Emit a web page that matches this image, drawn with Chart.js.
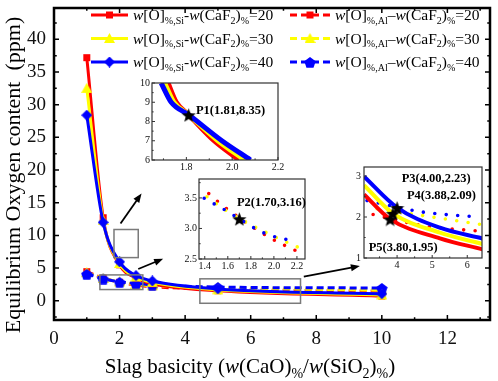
<!DOCTYPE html>
<html>
<head>
<meta charset="utf-8">
<script src="https://cdn.jsdelivr.net/npm/chart.js@4.4.1/dist/chart.umd.min.js"></script>
<style>
  html, body { margin: 0; padding: 0; background: #fff; }
  #wrap { position: relative; width: 498px; height: 381px; overflow: hidden; }
  #wrap canvas { position: absolute; }
</style>
</head>
<body>
<div id="wrap">
  <canvas id="main" width="498" height="381" style="left:0;top:0"></canvas>
  <canvas id="in1" width="160" height="100" style="left:132px;top:76px"></canvas>
  <canvas id="in2" width="156" height="103" style="left:180px;top:172px"></canvas>
  <canvas id="in3" width="142" height="113" style="left:348px;top:160px"></canvas>
</div>
<script>
// ---- main chart data ----
const basicity = [1, 1.5, 2, 2.5, 3, 5, 10];
const si20 = [37.2, 12.7, 5.5, 3.5, 2.6, 1.53, 0.72];
const si30 = [32.5, 12.3, 5.7, 3.65, 2.82, 1.67, 0.88];
const si40 = [28.4, 12.0, 5.95, 3.85, 3.02, 1.8, 1.05];
const al20 = [4.45, 3.46, 2.82, 2.4, 2.15, 1.76, 1.45];
const al30 = [4.3, 3.42, 2.87, 2.5, 2.3, 1.99, 1.6];
const al40 = [4.1, 3.38, 2.88, 2.65, 2.45, 2.09, 1.95];
const xTicks = [0, 2, 4, 6, 8, 10, 12];
const yTicks = [0, 5, 10, 15, 20, 25, 30, 35, 40];
const caf2 = [20, 30, 40];

// ---- inset 1 (Si curves around P1) ----
const p1X20 = [1.72, 1.756, 1.81, 1.921, 2.03];
const p1X30 = [1.705, 1.745, 1.81, 1.938, 2.055];
const p1X40 = [1.69, 1.734, 1.81, 1.955, 2.08];
const p1Y = [10, 9, 8.35, 7, 6];
const in1XTicks = [1.8, 2.0, 2.2];
const in1YTicks = [6, 7, 8, 9, 10];
const p1Star = { x: [1.81], y: [8.35] };

// ---- inset 2 (Al curves around P2) ----
const p2X20 = [1.412, 1.564, 1.969, 2.226];
const p2Y20 = [3.608, 3.361, 2.845, 2.603];
const p2X30 = [1.366, 1.606, 1.953, 2.219];
const p2Y30 = [3.59, 3.269, 2.915, 2.684];
const p2X40 = [1.395, 1.572, 1.928, 2.19];
const p2Y40 = [3.495, 3.306, 2.915, 2.785];
const in2XTicks = [1.4, 1.6, 1.8, 2.0, 2.2];
const in2YTicks = [2.5, 3.0, 3.5];
const p2Star = { x: [1.70], y: [3.16] };

// ---- inset 3 (Si and Al curves around P3-P5) ----
const p3SiX20 = [3.057, 3.80, 5.22, 6.44];
const p3SiY20 = [2.55, 1.95, 1.48, 1.21];
const p3SiX30 = [3.057, 3.88, 5.22, 6.44];
const p3SiY30 = [2.775, 2.09, 1.62, 1.34];
const p3SiX40 = [3.057, 4.00, 5.22, 6.44];
const p3SiY40 = [2.99, 2.23, 1.74, 1.475];
const p3AlX20 = [3.22, 4.79, 6.29];
const p3AlY20 = [2.08, 1.78, 1.66];
const p3AlX30 = [3.22, 5.22, 6.36];
const p3AlY30 = [2.23, 1.97, 1.82];
const p3AlX40 = [3.143, 4.74, 6.31];
const p3AlY40 = [2.40, 2.12, 2.0];
const in3XTicks = [4, 5, 6];
const in3YTicks = [1, 2, 3];
const p3Stars = { x: [4.00, 3.88, 3.80], y: [2.23, 2.09, 1.95] };

const SERIF = '"Liberation Serif", "Times New Roman", serif';
const RED = '#ff0000', YEL = '#ffff00', BLU = '#0000ff';

const pts = (xs, ys) => xs.map((x, i) => ({ x, y: Array.isArray(ys) ? ys[i] : ys }));

// marker images
function shape(kind, color, size) {
  const c = document.createElement('canvas');
  c.width = c.height = size;
  const g = c.getContext('2d');
  const r = size / 2;
  g.fillStyle = color;
  g.beginPath();
  if (kind === 'square') {
    g.rect(1, 1, size - 2, size - 2);
  } else if (kind === 'triangle') {
    g.moveTo(r, 0); g.lineTo(size, size - 1); g.lineTo(0, size - 1);
  } else if (kind === 'diamond') {
    g.moveTo(r, 0); g.lineTo(size, r); g.lineTo(r, size); g.lineTo(0, r);
  } else {
    const n = kind === 'star' ? 10 : 5;
    for (let i = 0; i < n; i++) {
      const a = -Math.PI / 2 + i * 2 * Math.PI / n;
      const rr = (kind === 'star' && i % 2) ? r * 0.42 : r;
      g.lineTo(r + rr * Math.cos(a), r + 1 + rr * Math.sin(a));
    }
  }
  g.closePath();
  g.fill();
  return c;
}
const mk = {
  sq: shape('square', RED, 9), tri: shape('triangle', YEL, 11), dia: shape('diamond', BLU, 11),
  sqA: shape('square', RED, 9), triA: shape('triangle', YEL, 11), pen: shape('penta', BLU, 12),
  star: shape('star', '#000', 15)
};

// rich text: parts = [[text, style]] style: i italic, s subscript, b bold
function fontFor(s, size) {
  const sz = s.includes('s') ? Math.round(size * 0.66) : size;
  return (s.includes('i') ? 'italic ' : '') + (s.includes('b') ? 'bold ' : '') + sz + 'px ' + SERIF;
}
function richWidth(ctx, parts, size) {
  let w = 0;
  for (const [t, s] of parts) { ctx.font = fontFor(s, size); w += ctx.measureText(t).width; }
  return w;
}
function drawRich(ctx, parts, x, y, size) {
  ctx.textAlign = 'left';
  ctx.textBaseline = 'alphabetic';
  for (const [t, s] of parts) {
    ctx.font = fontFor(s, size);
    ctx.fillText(t, x, y + (s.includes('s') ? size * 0.24 : 0));
    x += ctx.measureText(t).width;
  }
}
const legendText = (el, dash, n) => [['w', 'i'], ['[O]', ''], ['%,' + el, 's'], [dash, ''], ['w', 'i'],
  ['(CaF', ''], ['2', 's'], [')', ''], ['%', 's'], ['=' + n, '']];

// frame + inward ticks + labels, shared by all charts
const framePlugin = {
  id: 'frame',
  afterDraw(chart, args, o) {
    const { ctx, chartArea: a, scales: { x, y } } = chart;
    ctx.save();
    ctx.strokeStyle = o.color;
    ctx.lineWidth = o.tickWidth;
    const tick = (vals, len) => {
      vals.forEach(v => {
        const px = x.getPixelForValue(v);
        if (px < a.left - 0.5 || px > a.right + 0.5) return;
        ctx.beginPath();
        ctx.moveTo(px, a.bottom); ctx.lineTo(px, a.bottom - len);
        if (o.allSides) { ctx.moveTo(px, a.top); ctx.lineTo(px, a.top + len); }
        ctx.stroke();
      });
    };
    const tickY = (vals, len) => {
      vals.forEach(v => {
        const py = y.getPixelForValue(v);
        if (py < a.top - 0.5 || py > a.bottom + 0.5) return;
        ctx.beginPath();
        ctx.moveTo(a.left, py); ctx.lineTo(a.left + len, py);
        if (o.allSides) { ctx.moveTo(a.right, py); ctx.lineTo(a.right - len, py); }
        ctx.stroke();
      });
    };
    tick(o.xMajor, o.len); tick(o.xMinor, o.len * 0.55);
    tickY(o.yMajor, o.len); tickY(o.yMinor, o.len * 0.55);
    ctx.lineWidth = o.width;
    ctx.strokeRect(a.left, a.top, a.right - a.left, a.bottom - a.top);
    (o.labels || []).forEach(l => {
      ctx.fillStyle = '#000';
      ctx.font = 'bold 12.5px ' + SERIF;
      ctx.textAlign = 'left';
      ctx.textBaseline = 'middle';
      ctx.fillText(l.text, x.getPixelForValue(l.x), y.getPixelForValue(l.y));
    });
    ctx.restore();
  }
};

// boxes, arrows, legend and axis titles of the main chart
const decorPlugin = {
  id: 'decor',
  afterDraw(chart, args, o) {
    const { ctx, scales: { x, y } } = chart;
    ctx.save();
    ctx.strokeStyle = '#7a7a7a';
    ctx.lineWidth = 1.5;
    o.boxes.forEach(b => {
      const x0 = x.getPixelForValue(b[0]), x1 = x.getPixelForValue(b[1]);
      const y0 = y.getPixelForValue(b[3]), y1 = y.getPixelForValue(b[2]);
      ctx.strokeRect(x0, y0, x1 - x0, y1 - y0);
    });
    ctx.strokeStyle = '#000';
    ctx.fillStyle = '#000';
    ctx.lineWidth = 1.8;
    o.arrows.forEach(r => {
      const x0 = x.getPixelForValue(r[0]), y0 = y.getPixelForValue(r[1]);
      const x1 = x.getPixelForValue(r[2]), y1 = y.getPixelForValue(r[3]);
      const ang = Math.atan2(y1 - y0, x1 - x0);
      ctx.beginPath(); ctx.moveTo(x0, y0);
      ctx.lineTo(x1 - 6 * Math.cos(ang), y1 - 6 * Math.sin(ang)); ctx.stroke();
      ctx.beginPath();
      ctx.moveTo(x1, y1);
      ctx.lineTo(x1 - 9 * Math.cos(ang) + 3.5 * Math.sin(ang), y1 - 9 * Math.sin(ang) - 3.5 * Math.cos(ang));
      ctx.lineTo(x1 - 9 * Math.cos(ang) - 3.5 * Math.sin(ang), y1 - 9 * Math.sin(ang) + 3.5 * Math.cos(ang));
      ctx.closePath(); ctx.fill();
    });

    // legend
    const rows = [15, 38.5, 62];
    const cols = [
      { x0: 91, x1: 128, tx: 133, el: 'Si', dash: '-', dashed: false, marks: [mk.sq, mk.tri, mk.dia] },
      { x0: 290, x1: 330, tx: 335, el: 'Al', dash: '\u2013', dashed: true, marks: [mk.sqA, mk.triA, mk.pen] }
    ];
    const colors = [RED, YEL, BLU];
    cols.forEach(c => {
      caf2.forEach((n, i) => {
        const yy = rows[i];
        ctx.strokeStyle = colors[i];
        ctx.lineWidth = 3;
        ctx.setLineDash(c.dashed ? [7, 4] : []);
        ctx.beginPath(); ctx.moveTo(c.x0, yy); ctx.lineTo(c.x1, yy); ctx.stroke();
        ctx.setLineDash([]);
        const m = c.marks[i];
        ctx.drawImage(m, (c.x0 + c.x1) / 2 - m.width / 2, yy - m.height / 2);
        ctx.fillStyle = '#000';
        drawRich(ctx, legendText(c.el, c.dash, n), c.tx, yy + 5, 15.5);
      });
    });

    // axis titles
    ctx.fillStyle = '#000';
    const xt = [['Slag basicity (', ''], ['w', 'i'], ['(CaO)', ''], ['%', 's'], ['/', ''], ['w', 'i'],
      ['(SiO', ''], ['2', 's'], [')', ''], ['%', 's'], [')', '']];
    const w = richWidth(ctx, xt, 21);
    drawRich(ctx, xt, 250 - w / 2, 373, 21);
    ctx.translate(20, 175);
    ctx.rotate(-Math.PI / 2);
    ctx.font = '22px ' + SERIF;
    ctx.textAlign = 'center';
    ctx.textBaseline = 'alphabetic';
    ctx.fillText('Equilibrium Oxygen content  (ppm)', 0, 0);
    ctx.restore();
  }
};

function linScale(min, max, ticks, fmt, fontSize, pad, size) {
  return {
    type: 'linear', min, max,
    afterBuildTicks: s => { s.ticks = ticks.map(v => ({ value: v })); },
    afterFit: s => {
      if (s.isHorizontal()) s.height = size; else s.width = size;
      s.paddingLeft = 0; s.paddingRight = 0; s.paddingTop = 0; s.paddingBottom = 0;
    },
    grid: { display: false, drawTicks: false },
    border: { display: false },
    ticks: {
      autoSkip: false, maxRotation: 0, padding: pad, color: '#111',
      font: { family: SERIF, size: fontSize }, callback: v => fmt(v)
    }
  };
}

const base = (scales, padding, pluginOpts, extra) => ({
  responsive: false, animation: false, events: [],
  layout: { padding },
  scales,
  elements: { point: { radius: 0 } },
  plugins: Object.assign({ legend: { display: false }, tooltip: { enabled: false }, frame: pluginOpts }, extra || {})
});

// ---- main chart ----
const mainLine = (xs, ys, color, marker, dashed) => ({
  data: pts(xs, ys), borderColor: color, backgroundColor: color, borderWidth: 3,
  borderDash: dashed ? [7, 4] : [], pointStyle: marker, pointRadius: 5,
  cubicInterpolationMode: 'monotone', fill: false
});

new Chart(document.getElementById('main'), {
  type: 'line',
  data: {
    datasets: [
      mainLine(basicity, si40, BLU, mk.dia, false),
      mainLine(basicity, si30, YEL, mk.tri, false),
      mainLine(basicity, si20, RED, mk.sq, false),
      mainLine(basicity, al40, BLU, mk.pen, true),
      mainLine(basicity, al30, YEL, mk.triA, true),
      mainLine(basicity, al20, RED, mk.sqA, true)
    ]
  },
  options: base({
    x: linScale(0, 13.3, xTicks, v => String(v), 19, 8, 61),
    y: linScale(-2.95, 44.8, yTicks, v => String(v), 19, 8, 54)
  }, { top: 2, right: 6, left: 0, bottom: 0 }, {
    color: '#000', width: 2.5, tickWidth: 1.5, len: 5, allSides: true,
    xMajor: xTicks, xMinor: [1, 3, 5, 7, 9, 11, 13],
    yMajor: yTicks, yMinor: [-2.5, 2.5, 7.5, 12.5, 17.5, 22.5, 27.5, 32.5, 37.5, 42.5]
  }, {
    decor: {
      boxes: [[1.83, 2.57, 6.6, 10.9], [1.40, 2.71, 1.71, 3.95], [4.45, 7.52, -0.39, 3.35]],
      arrows: [[2.03, 11.82, 2.67, 16.41], [2.57, 4.85, 3.33, 6.43], [7.62, 3.69, 9.33, 5.30]]
    }
  }),
  plugins: [framePlugin, decorPlugin]
});

// ---- insets ----
const curve = (xs, ys, color, w) => ({
  data: pts(xs, ys), borderColor: color, borderWidth: w, pointRadius: 0,
  cubicInterpolationMode: 'monotone', fill: false
});
const dots = (xs, ys, color, off) => ({
  data: pts(xs, ys), borderColor: color, borderWidth: 3.6, pointRadius: 0,
  borderDash: [0, 11.5], borderDashOffset: off, borderCapStyle: 'round',
  cubicInterpolationMode: 'monotone', fill: false
});
const stars = s => ({
  data: pts(s.x, s.y), showLine: false, pointStyle: mk.star, pointRadius: 6
});
const insetFrame = (xt, yt, xMinor, yMinor, labels) => ({
  color: '#333', width: 1.2, tickWidth: 1, len: 3, allSides: false,
  xMajor: xt, xMinor, yMajor: yt, yMinor, labels
});
const f1 = v => v.toFixed(1);
const label = (name, x, y) => `${name}(${x.toFixed(2)},${y.toFixed(2)})`;

new Chart(document.getElementById('in1'), {
  type: 'line',
  data: {
    datasets: [
      stars(p1Star),
      curve(p1X40, p1Y, BLU, 5),
      curve(p1X30, p1Y, YEL, 5),
      curve(p1X20, p1Y, RED, 5)
    ]
  },
  options: base({
    x: linScale(1.65, 2.2, in1XTicks, f1, 10, 1, 16),
    y: linScale(6, 10, in1YTicks, v => String(v), 10, 2, 20)
  }, { top: 6, right: 14, left: 0, bottom: 0 },
    insetFrame(in1XTicks, in1YTicks, [1.7, 1.9, 2.1], [6.5, 7.5, 8.5, 9.5],
      [{ text: label('P1', p1Star.x[0], p1Star.y[0]), x: 1.842, y: 8.58 }])),
  plugins: [framePlugin]
});

new Chart(document.getElementById('in2'), {
  type: 'line',
  data: {
    datasets: [
      stars(p2Star),
      dots(p2X40, p2Y40, BLU, 0),
      dots(p2X30, p2Y30, YEL, 4),
      dots(p2X20, p2Y20, RED, 8)
    ]
  },
  options: base({
    x: linScale(1.35, 2.27, in2XTicks, f1, 10, 1, 16),
    y: linScale(2.5, 3.81, in2YTicks, f1, 10, 2, 19)
  }, { top: 6, right: 31, left: 0, bottom: 0 },
    insetFrame(in2XTicks, in2YTicks, [1.5, 1.7, 1.9, 2.1], [2.75, 3.25, 3.75],
      [{ text: label('P2', p2Star.x[0], p2Star.y[0]), x: 1.679, y: 3.426 }])),
  plugins: [framePlugin]
});

new Chart(document.getElementById('in3'), {
  type: 'line',
  data: {
    datasets: [
      stars(p3Stars),
      curve(p3SiX40, p3SiY40, BLU, 4),
      curve(p3SiX30, p3SiY30, YEL, 4),
      curve(p3SiX20, p3SiY20, RED, 4),
      dots(p3AlX40, p3AlY40, BLU, 0),
      dots(p3AlX30, p3AlY30, YEL, 4),
      dots(p3AlX20, p3AlY20, RED, 8)
    ]
  },
  options: base({
    x: linScale(3.057, 6.42, in3XTicks, v => String(v), 10, 1, 15),
    y: linScale(1, 3.22, in3YTicks, v => String(v), 10, 3, 16)
  }, { top: 6, right: 8, left: 0, bottom: 0 },
    insetFrame(in3XTicks, in3YTicks, [3.5, 4.5, 5.5], [1.5, 2.5],
      p3Stars.x.map((x, i) => ({
        text: label(['P3', 'P4', 'P5'][i], x, p3Stars.y[i]),
        x: [4.13, 4.28, 3.19][i], y: [2.94, 2.51, 1.25][i]
      })))),
  plugins: [framePlugin]
});
</script>
</body>
</html>
